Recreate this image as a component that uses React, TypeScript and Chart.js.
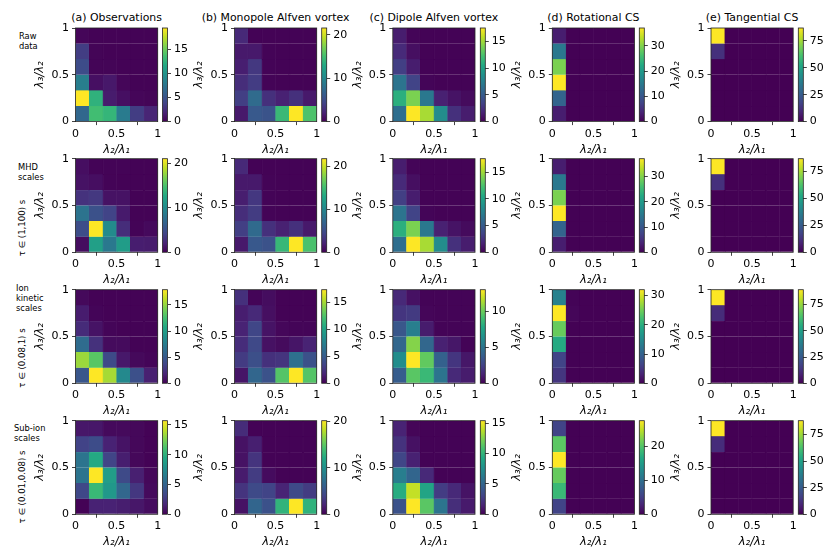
import React, { useEffect, useRef } from "react";
import { Chart, registerables } from "chart.js";

Chart.register(...registerables);

const columnTitles = ["(a) Observations", "(b) Monopole Alfven vortex", "(c) Dipole Alfven vortex", "(d) Rotational CS", "(e) Tangential CS"];
const binCentres = [1 / 12, 3 / 12, 5 / 12, 7 / 12, 9 / 12, 11 / 12];
const axisTicks = ["0", "0.5", "1"];

// Heat values: first line is the top row of cells.
const rawObservations = [
  [0.3, 0.1, 0.1, 0.1, 0.1, 0.1], [3.5, 0.2, 0.1, 0.1, 0.1, 0.1], [4.5, 0.2, 0.2, 0.1, 0.1, 0.1],
  [8.3, 0.8, 1.3, 0.3, 0.1, 0.1], [19.5, 12.5, 1.5, 0.8, 0.3, 0.2], [6.5, 13.5, 12.8, 8, 3.5, 2],
];
const rawMonopole = [
  [2.5, 0.1, 0.1, 0.1, 0.1, 0.1], [1.5, 1.5, 0.2, 0.1, 0.1, 0.1], [1.8, 3.5, 0.2, 0.1, 0.1, 0.1],
  [2.8, 3.8, 0.2, 0.1, 0.1, 0.1], [4, 7.5, 3, 2, 3, 1.5], [1.5, 6, 5.5, 14.5, 21.6, 15.5],
];
const rawDipole = [
  [1.4, 0.2, 0.1, 0.1, 0.1, 0.1], [2.1, 0.7, 0.1, 0.1, 0.1, 0.1], [3.2, 1.4, 0.1, 0.1, 0.1, 0.1],
  [6.7, 3.5, 0.2, 0.1, 0.1, 0.1], [11, 14, 7, 1.6, 0.9, 0.5], [6.3, 17.5, 15.2, 8.4, 2.4, 1.4],
];
const rawRotational = [
  [3, 0.1, 0.1, 0.1, 0.1, 0.1], [14.8, 0.1, 0.1, 0.1, 0.1, 0.1], [29.6, 0.1, 0.1, 0.1, 0.1, 0.1],
  [37, 0.1, 0.1, 0.1, 0.1, 0.1], [11.8, 0.1, 0.1, 0.1, 0.1, 0.1], [3, 0.1, 0.1, 0.1, 0.1, 0.1],
];
const rawTangential = [
  [87, 0.1, 0.1, 0.1, 0.1, 0.1], [12, 0.1, 0.1, 0.1, 0.1, 0.1], [0.1, 0.1, 0.1, 0.1, 0.1, 0.1],
  [0.1, 0.1, 0.1, 0.1, 0.1, 0.1], [0.1, 0.1, 0.1, 0.1, 0.1, 0.1], [0.1, 0.1, 0.1, 0.1, 0.1, 0.1],
];

const mhdObservations = [
  [0.8, 0.2, 0.2, 0.2, 0.1, 0.1], [1, 0.8, 0.2, 0.1, 0.1, 0.1], [3, 3.4, 1, 1, 0.1, 0.1],
  [8, 5.2, 4.2, 1.5, 0.1, 0.1], [4.9, 21, 10, 2.7, 0.2, 0.5], [0.7, 11.8, 8.4, 11.5, 1.7, 1.6],
];
const mhdMonopole = [
  [2.5, 0.1, 0.1, 0.1, 0.1, 0.1], [1.5, 1.5, 0.2, 0.1, 0.1, 0.1], [1.8, 3.5, 0.2, 0.1, 0.1, 0.1],
  [2.8, 3.8, 0.2, 0.1, 0.1, 0.1], [4, 7.5, 3, 2, 3, 1.5], [1.5, 6, 5.5, 14.5, 21.8, 15.5],
];
const mhdDipole = [
  [1.4, 0.2, 0.1, 0.1, 0.1, 0.1], [2.1, 0.7, 0.1, 0.1, 0.1, 0.1], [3.2, 1.4, 0.1, 0.1, 0.1, 0.1],
  [6.7, 3.5, 0.2, 0.1, 0.1, 0.1], [11, 14, 7, 1.6, 0.9, 0.5], [6.3, 17.5, 15.2, 8.4, 2.4, 1.4],
];
const mhdRotational = [
  [3, 0.1, 0.1, 0.1, 0.1, 0.1], [14.8, 0.1, 0.1, 0.1, 0.1, 0.1], [29.6, 0.1, 0.1, 0.1, 0.1, 0.1],
  [37, 0.1, 0.1, 0.1, 0.1, 0.1], [11.8, 0.1, 0.1, 0.1, 0.1, 0.1], [3, 0.1, 0.1, 0.1, 0.1, 0.1],
];
const mhdTangential = [
  [87, 0.1, 0.1, 0.1, 0.1, 0.1], [12, 0.1, 0.1, 0.1, 0.1, 0.1], [0.1, 0.1, 0.1, 0.1, 0.1, 0.1],
  [0.1, 0.1, 0.1, 0.1, 0.1, 0.1], [0.1, 0.1, 0.1, 0.1, 0.1, 0.1], [0.1, 0.1, 0.1, 0.1, 0.1, 0.1],
];

const ionObservations = [
  [0.4, 0.1, 0.1, 0.1, 0.1, 0.1], [1.4, 0.2, 0.1, 0.1, 0.1, 0.1], [2.2, 0.9, 0.2, 0.1, 0.1, 0.1],
  [6.3, 2.5, 0.5, 0.5, 0.1, 0.1], [15.2, 13.2, 4, 1.2, 0.4, 0.2], [4.8, 17.9, 15.5, 8.4, 4.4, 1.6],
];
const ionMonopole = [
  [2.4, 0.2, 0.6, 0.1, 0.1, 0.1], [1.4, 2, 0.7, 0.1, 0.1, 0.1], [1.7, 3.6, 0.9, 0.3, 0.2, 0.2],
  [2.2, 3.8, 0.8, 0.5, 1, 1.7], [3, 4.2, 2.4, 2.6, 6.4, 4.3], [1, 5.7, 4.4, 12.7, 17.4, 12.7],
];
const ionDipole = [
  [1.5, 0.6, 0.1, 0.1, 0.1, 0.1], [2, 2.2, 0.2, 0.1, 0.1, 0.1], [3.5, 5.5, 1, 0.1, 0.1, 0.1],
  [4.3, 10.6, 4.3, 1.2, 0.8, 0.1], [6.3, 13, 9.8, 4, 2, 0.8], [3.8, 9.6, 8.7, 5, 1.5, 1],
];
const ionRotational = [
  [14, 0.3, 0.1, 0.1, 0.1, 0.1], [32, 0.5, 0.1, 0.1, 0.1, 0.1], [24.5, 0.1, 0.1, 0.1, 0.1, 0.1],
  [19.5, 0.1, 0.1, 0.1, 0.1, 0.1], [6.4, 0.1, 0.1, 0.1, 0.1, 0.1], [5, 0.1, 0.1, 0.1, 0.1, 0.1],
];
const ionTangential = [
  [89, 0.1, 0.1, 0.1, 0.1, 0.1], [11, 0.1, 0.1, 0.1, 0.1, 0.1], [0.1, 0.1, 0.1, 0.1, 0.1, 0.1],
  [0.1, 0.1, 0.1, 0.1, 0.1, 0.1], [0.1, 0.1, 0.1, 0.1, 0.1, 0.1], [0.1, 0.1, 0.1, 0.1, 0.1, 0.1],
];

const subObservations = [
  [1, 1, 0.4, 0.4, 0.3, 0.1], [3.1, 3.6, 1.5, 0.8, 0.3, 0.1], [6, 9.5, 3.2, 1.3, 0.3, 0.1],
  [6, 15.7, 8.7, 3.5, 1.4, 0.3], [3.4, 10.5, 8.3, 5.2, 2.5, 0.4], [0.1, 1.5, 1.5, 1.3, 1, 0.5],
];
const subMonopole = [
  [2.5, 0.1, 0.1, 0.1, 0.1, 0.1], [1, 1.7, 0.1, 0.1, 0.1, 0.1], [1, 3, 0.1, 0.1, 0.1, 0.1],
  [1.5, 3.5, 0.6, 0.1, 0.1, 0.1], [3, 4.5, 4, 2, 4.5, 3.5], [1, 6.5, 5, 13, 20.1, 12.9],
];
const subDipole = [
  [1.5, 0.2, 0.1, 0.1, 0.1, 0.1], [2.2, 0.7, 0.1, 0.1, 0.1, 0.1], [3.2, 1.4, 0.1, 0.1, 0.1, 0.1],
  [6.5, 5, 1.8, 0.1, 0.1, 0.1], [9.5, 14, 9, 2.7, 1.8, 0.8], [3.9, 15.4, 11.4, 5.9, 2, 1.1],
];
const subRotational = [
  [5.5, 0.1, 0.1, 0.1, 0.1, 0.1], [20.5, 0.1, 0.1, 0.1, 0.1, 0.1], [27.6, 0.1, 0.1, 0.1, 0.1, 0.1],
  [21, 0.1, 0.1, 0.1, 0.1, 0.1], [18.5, 0.1, 0.1, 0.1, 0.1, 0.1], [5.5, 0.1, 0.1, 0.1, 0.1, 0.1],
];
const subTangential = [
  [88, 0.1, 0.1, 0.1, 0.1, 0.1], [11, 0.1, 0.1, 0.1, 0.1, 0.1], [0.1, 0.1, 0.1, 0.1, 0.1, 0.1],
  [0.1, 0.1, 0.1, 0.1, 0.1, 0.1], [0.1, 0.1, 0.1, 0.1, 0.1, 0.1], [0.1, 0.1, 0.1, 0.1, 0.1, 0.1],
];

const grid = [
  [rawObservations, rawMonopole, rawDipole, rawRotational, rawTangential],
  [mhdObservations, mhdMonopole, mhdDipole, mhdRotational, mhdTangential],
  [ionObservations, ionMonopole, ionDipole, ionRotational, ionTangential],
  [subObservations, subMonopole, subDipole, subRotational, subTangential],
];
const colorMaxima = [
  [19.5, 21.6, 17.5, 37, 87],
  [21, 21.8, 17.5, 37, 87],
  [17.9, 17.4, 13, 32, 89],
  [15.7, 20.1, 15.4, 27.6, 88],
];
const colorSteps = [
  [5, 10, 5, 10, 25],
  [10, 10, 5, 10, 25],
  [5, 5, 5, 10, 25],
  [5, 10, 5, 10, 25],
];

const rowNotes = [
  { lines: ["Raw", "data"], x: 19, y: 31, range: "", cy: 0 },
  { lines: ["MHD", "scales"], x: 18, y: 161.5, range: "τ ∈ (1,100) s", cy: 228 },
  { lines: ["Ion", "kinetic", "scales"], x: 16, y: 283, range: "τ ∈ (0.08,1) s", cy: 358 },
  { lines: ["Sub-ion", "scales"], x: 14, y: 423, range: "τ ∈ (0.01,0.08) s", cy: 487 },
];

const viridis = ["#440154", "#482475", "#414487", "#355f8d", "#2a788e", "#21918c", "#22a884", "#44bf70", "#7ad151", "#bddf26", "#fde725"];

function hexToRgb(h: string) {
  return [1, 3, 5].map((i) => parseInt(h.slice(i, i + 2), 16));
}
function colormap(t: number) {
  const p = Math.min(1, Math.max(0, t)) * (viridis.length - 1);
  const i = Math.min(viridis.length - 2, Math.floor(p));
  const a = hexToRgb(viridis[i]);
  const b = hexToRgb(viridis[i + 1]);
  const f = p - i;
  return `rgb(${a.map((c, k) => Math.round(c + (b[k] - c) * f)).join(",")})`;
}

const FONT = "'DejaVu Sans', sans-serif";
const AXES_LEFT = [75.5, 234.5, 392.8, 552.3, 711];
const AXES_TOP = [28, 158.7, 289.7, 420.7];
const AXES_W = 82.2;
const AXES_H = 93.6;
const BAR_LEFT = [162.5, 321.7, 480.3, 639.3, 798.3];
const BAR_W = 5;
const TOP_ROOM = 10;
const BELOW = 35;
const LEFT_ROOM = 42;
const RIGHT_ROOM = 8;
const BAR_LABEL_ROOM = 32;
const TICK_SIZE = 11;
const LABEL_SIZE = 11.5;

const frame = {
  id: "frame",
  afterDatasetsDraw(chart: any) {
    const { ctx, chartArea: a } = chart;
    ctx.save();
    ctx.strokeStyle = "#222";
    ctx.lineWidth = 0.8;
    ctx.strokeRect(a.left, a.top, a.right - a.left, a.bottom - a.top);
    ctx.restore();
  },
};

const axisLook = {
  border: { display: false },
  grid: { drawOnChartArea: false, drawTicks: true, tickLength: 3.5, tickWidth: 0.8, tickColor: "#111" },
};

function heatConfig(values: number[][], vmax: number, padLeft: number, padTop: number, padRight: number, padBottom: number): any {
  const tick = (v: any) => (axisTicks.includes(String(v)) ? String(v) : "");
  return {
    type: "bar",
    data: {
      datasets: values.map((row, r) => ({
        label: `row ${r}`,
        data: row.map((_, c) => ({ x: binCentres[c], y: [(5 - r) / 6, (6 - r) / 6] })),
        backgroundColor: row.map((v) => colormap(v / vmax)),
        borderColor: row.map((v) => colormap(v / vmax)),
        borderWidth: 0.6,
        barPercentage: 1,
        categoryPercentage: 1,
        grouped: false,
      })),
    },
    options: {
      responsive: false,
      animation: false,
      events: [],
      devicePixelRatio: 1,
      layout: { padding: { left: padLeft, top: padTop, right: padRight, bottom: padBottom } },
      plugins: { legend: { display: false }, tooltip: { enabled: false }, title: { display: false } },
      scales: {
        x: {
          type: "linear",
          min: 0,
          max: 1,
          offset: false,
          ...axisLook,
          ticks: { stepSize: 0.5, maxRotation: 0, padding: 2, autoSkip: false, color: "#000", font: { family: FONT, size: TICK_SIZE }, callback: tick, includeBounds: false },
          title: { display: true, text: "λ₂/λ₁", color: "#000", padding: 0, font: { family: FONT, size: LABEL_SIZE, style: "italic" } },
          afterFit: (s: any) => { s.height = BELOW; },
        },
        y: {
          type: "linear",
          min: 0,
          max: 1,
          ...axisLook,
          ticks: { stepSize: 0.5, padding: 3, autoSkip: false, color: "#000", font: { family: FONT, size: TICK_SIZE }, callback: tick, includeBounds: false },
          title: { display: true, text: "λ₃/λ₂", color: "#000", padding: 0, font: { family: FONT, size: LABEL_SIZE, style: "italic" } },
          afterFit: (s: any) => { s.width = LEFT_ROOM; },
        },
      },
    },
    plugins: [frame],
  };
}

function barConfig(vmax: number, step: number, padLeft: number, padTop: number, padRight: number, padBottom: number): any {
  return {
    type: "bar",
    data: {
      labels: ["scale"],
      datasets: [
        {
          data: [[0, vmax]],
          barPercentage: 1,
          categoryPercentage: 1,
          borderWidth: 0,
          backgroundColor: (c: any) => {
            const a = c.chart.chartArea;
            if (!a) return viridis[5];
            const g = c.chart.ctx.createLinearGradient(0, a.bottom, 0, a.top);
            viridis.forEach((col, i) => g.addColorStop(i / (viridis.length - 1), col));
            return g;
          },
        },
      ],
    },
    options: {
      responsive: false,
      animation: false,
      events: [],
      devicePixelRatio: 1,
      layout: { padding: { left: padLeft, top: padTop, right: padRight, bottom: padBottom } },
      plugins: { legend: { display: false }, tooltip: { enabled: false }, title: { display: false } },
      scales: {
        x: { display: false },
        y: {
          position: "right",
          type: "linear",
          min: 0,
          max: vmax,
          ...axisLook,
          ticks: { stepSize: step, includeBounds: false, padding: 3, autoSkip: false, color: "#000", font: { family: FONT, size: TICK_SIZE }, callback: (v: any) => String(v) },
          afterFit: (s: any) => { s.width = BAR_LABEL_ROOM; },
        },
      },
    },
    plugins: [frame],
  };
}

export default function App() {
  const host = useRef<HTMLDivElement>(null);
  useEffect(() => {
    const charts: Chart[] = [];
    const el = host.current!;
    const place = (left: number, top: number, width: number, height: number) => {
      const c = document.createElement("canvas");
      c.width = width;
      c.height = height;
      c.style.cssText = `position:absolute;left:${left}px;top:${top}px;width:${width}px;height:${height}px;`;
      el.appendChild(c);
      return c;
    };
    grid.forEach((row, r) => {
      row.forEach((values, col) => {
        const x0 = AXES_LEFT[col] - LEFT_ROOM;
        const y0 = AXES_TOP[r] - TOP_ROOM;
        const left = Math.floor(x0);
        const top = Math.floor(y0);
        const padLeft = x0 - left;
        const padTop = y0 - top + TOP_ROOM;
        const w = Math.ceil(padLeft + LEFT_ROOM + AXES_W + RIGHT_ROOM);
        const h = Math.ceil(padTop + AXES_H + BELOW + 1);
        const canvas = place(left, top, w, h);
        charts.push(new Chart(canvas, heatConfig(values, colorMaxima[r][col], padLeft, padTop, w - padLeft - LEFT_ROOM - AXES_W, h - padTop - AXES_H - BELOW)));

        const bx = Math.floor(BAR_LEFT[col] - 1);
        const bPad = BAR_LEFT[col] - bx;
        const bw = Math.ceil(bPad + BAR_W + BAR_LABEL_ROOM);
        const bc = place(bx, top, bw, h);
        charts.push(new Chart(bc, barConfig(colorMaxima[r][col], colorSteps[r][col], bPad, padTop, bw - bPad - BAR_W - BAR_LABEL_ROOM, h - padTop - AXES_H)));
      });
    });
    return () => {
      charts.forEach((c) => {
        c.canvas.remove();
        c.destroy();
      });
    };
  }, []);

  return (
    <div
      ref={host}
      style={{ position: "absolute", left: 0, top: 0, width: 839, height: 559, overflow: "hidden", background: "#fff", fontFamily: FONT, color: "#000", filter: "blur(0.35px)" }}
    >
      {columnTitles.map((t, i) => (
        <div
          key={t}
          style={{ position: "absolute", left: AXES_LEFT[i] + AXES_W / 2, top: 17.7, fontSize: 10.9, lineHeight: "12px", whiteSpace: "pre", transform: "translate(-50%,-50%)" }}
        >
          {t}
        </div>
      ))}
      {rowNotes.map((n) => (
        <React.Fragment key={n.lines[0]}>
          <div style={{ position: "absolute", left: n.x, top: n.y, fontSize: 8.3, lineHeight: "10px", whiteSpace: "pre" }}>{n.lines.join("\n")}</div>
          {n.range ? (
            <div
              style={{ position: "absolute", left: 21.7, top: n.cy, fontSize: 8.6, lineHeight: "10px", whiteSpace: "pre", transform: "translate(-50%,-50%) rotate(-90deg)" }}
            >
              {n.range}
            </div>
          ) : null}
        </React.Fragment>
      ))}
    </div>
  );
}
